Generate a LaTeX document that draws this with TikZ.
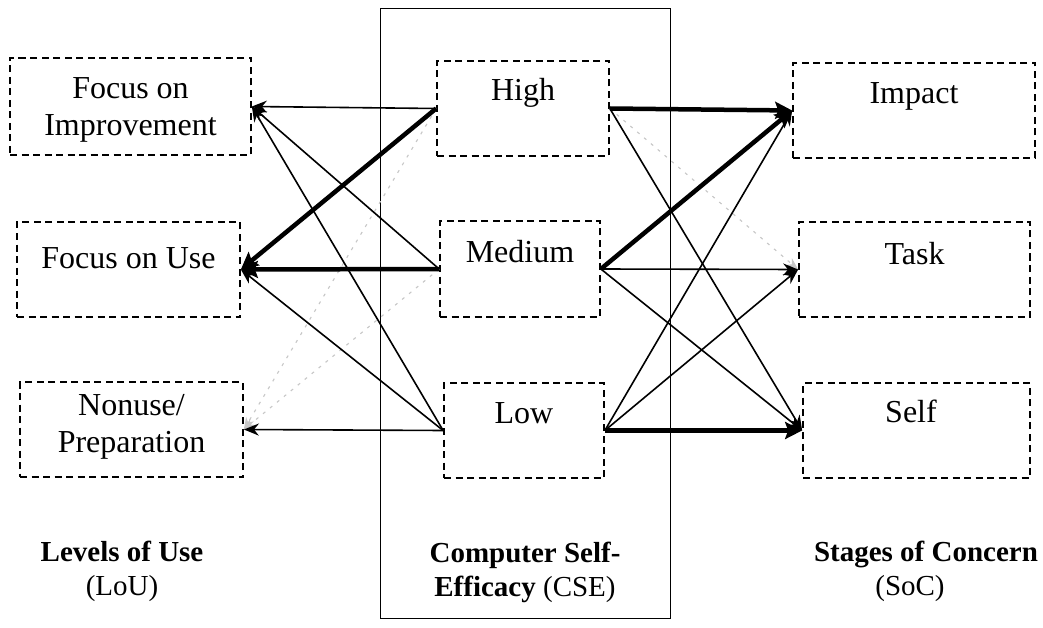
\documentclass[tikz,border=0pt]{standalone}
\usepackage{fontspec}
\setmainfont{Liberation Serif}
\usetikzlibrary{arrows.meta}
\begin{document}
\begin{tikzpicture}[x=1pt,y=-1pt,
  box/.style={draw,line width=1.7pt,dash pattern=on 7pt off 4.5pt,inner sep=0pt},
  txt/.style={font=\fontsize{32}{37}\selectfont,align=center,inner sep=0pt,anchor=base},
  captext/.style={font=\fontsize{29}{34}\selectfont,align=center,inner sep=0pt,anchor=base},
  thinarr/.style={line width=1.6pt,-{Stealth[length=15pt,width=12pt]}},
  thickarr/.style={line width=4.5pt,-{Stealth[length=17pt,width=17pt,inset=3pt]}},
  faintarr/.style={draw=black!22,line width=1.1pt,dash pattern=on 3pt off 6pt,-{Stealth[length=12pt,width=9pt]}}]
\useasboundingbox (0,0) rectangle (1043,628);
\fill[white] (0,0) rectangle (1043,628);

% central frame around the self-efficacy levels
\draw[line width=1pt] (380,9) rectangle (670,618);

% Levels of Use
\node[box,minimum width=241pt,minimum height=97pt] (foi) at (130.5,106.5) {};
\node[box,minimum width=223pt,minimum height=95pt] (fou) at (128.5,269.5) {};
\node[box,minimum width=223pt,minimum height=95pt] (non) at (131.5,429.5) {};
% Computer Self-Efficacy
\node[box,minimum width=172pt,minimum height=95pt] (hi) at (523,108.5) {};
\node[box,minimum width=160pt,minimum height=96pt] (med) at (520,269) {};
\node[box,minimum width=160pt,minimum height=95pt] (low) at (524,430.5) {};
% Stages of Concern
\node[box,minimum width=242pt,minimum height=95pt] (imp) at (914,110.5) {};
\node[box,minimum width=231pt,minimum height=95pt] (task) at (914.5,269.5) {};
\node[box,minimum width=227pt,minimum height=95pt] (self) at (916.5,430.5) {};

% box texts (base = baseline of the last line)
\node[txt] (tfoi) at (130.5,136) {Focus on\\Improvement};
\node[txt] (tfou) at (128.5,268) {Focus on Use};
\node[txt] (tnon) at (131.5,452) {Nonuse/\\Preparation};
\node[txt] (thi) at (523,101) {High};
\node[txt] (tmed) at (520,262) {Medium};
\node[txt] (tlow) at (524,423) {Low};
\node[txt] (timp) at (914,104) {Impact};
\node[txt] (ttask) at (914.5,264) {Task};
\node[txt] (tself) at (911,422) {Self};

% captions
\node[captext] (c1) at (122,595) {\textbf{Levels of Use}\\(LoU)};
\node[captext] (c2) at (525,596) {\textbf{Computer Self-}\\\textbf{Efficacy} (CSE)};
\node[captext] (c3) at (926,595) {\textbf{Stages of Concern}\\\hspace*{-32pt}(SoC)};

% self-efficacy -> levels of use
\draw[faintarr] (hi.west) -- (non.east);
\draw[faintarr] (med.west) -- (non.east);
\draw[thinarr] (hi.west) -- (foi.east);
\draw[thinarr] (med.west) -- (foi.east);
\draw[thinarr] (low.west) -- (foi.east);
\draw[thinarr] (low.west) -- (fou.east);
\draw[thinarr] (low.west) -- (non.east);
\draw[thickarr] (hi.west) -- (fou.east);
\draw[thickarr] (med.west) -- (fou.east);

% self-efficacy -> stages of concern
\draw[faintarr] (hi.east) -- (task.west);
\draw[thinarr] (hi.east) -- (self.west);
\draw[thinarr] (med.east) -- (task.west);
\draw[thinarr] (med.east) -- (self.west);
\draw[thinarr] (low.east) -- (imp.west);
\draw[thinarr] (low.east) -- (task.west);
\draw[thickarr] (hi.east) -- (imp.west);
\draw[thickarr] (med.east) -- (imp.west);
\draw[thickarr] (low.east) -- (self.west);
\end{tikzpicture}
\end{document}
